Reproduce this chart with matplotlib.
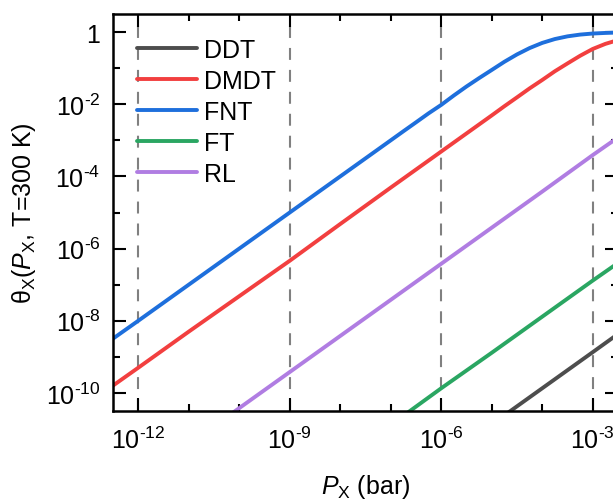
import matplotlib
matplotlib.use('Agg')
import matplotlib.pyplot as plt
from matplotlib.ticker import FixedLocator, NullFormatter

# --- data (pressure in bar, coverage theta) ---
p_fnt = [10**-12.5, 1e-12, 1e-11, 1e-10, 1e-9, 1e-8, 1e-7,
         10**-6.75, 10**-6.5, 10**-6.25, 1e-6, 10**-5.75, 10**-5.5, 10**-5.25, 1e-5,
         10**-4.75, 10**-4.5, 10**-4.25, 1e-4, 10**-3.75, 10**-3.5, 10**-3.25, 1e-3,
         10**-2.75, 10**-2.5]
fnt = [3.2e-9, 1.0e-8, 1.0e-7, 1.0e-6, 1.0e-5, 1.0e-4, 1.0e-3,
       1.78e-3, 3.15e-3, 5.6e-3, 9.6e-3, 0.0175, 0.031, 0.053, 0.089,
       0.15, 0.24, 0.36, 0.50, 0.64, 0.76, 0.85, 0.91,
       0.945, 0.97]

p_dmdt = [10**-12.5, 1e-12, 1e-11, 1e-10, 1e-9, 1e-8, 1e-7, 1e-6, 1e-5,
          10**-4.75, 10**-4.5, 10**-4.25, 1e-4, 10**-3.75, 10**-3.5, 10**-3.25, 1e-3,
          10**-2.75, 10**-2.5]
dmdt = [1.6e-10, 5.0e-10, 5.0e-9, 4.8e-8, 4.6e-7, 4.8e-6, 4.9e-5, 4.9e-4, 4.9e-3,
        8.8e-3, 0.0155, 0.0275, 0.047, 0.082, 0.135, 0.22, 0.34,
        0.47, 0.60]

p_rl = [1e-11, 1e-10, 1e-9, 1e-8, 1e-7, 1e-6, 1e-5, 1e-4, 1e-3, 10**-2.5]
rl = [3.8e-12, 3.8e-11, 3.8e-10, 3.8e-9, 3.8e-8, 3.8e-7, 3.8e-6, 3.8e-5, 3.9e-4, 1.2e-3]

p_ft = [1e-7, 1e-6, 1e-5, 1e-4, 1e-3, 10**-2.5]
ft = [1.3e-11, 1.35e-10, 1.3e-9, 1.3e-8, 1.3e-7, 4.0e-7]

p_ddt = [1e-5, 1e-4, 1e-3, 10**-2.5]
ddt = [1.35e-11, 1.35e-10, 1.35e-9, 4.3e-9]

dash_p = [1e-12, 1e-9, 1e-6, 1e-3]

x_major = [1e-12, 1e-9, 1e-6, 1e-3]
x_labels = [r'$10^{\text{-}12}$', r'$10^{\text{-}9}$', r'$10^{\text{-}6}$', r'$10^{\text{-}3}$']
x_minor = [1e-11, 1e-10, 1e-8, 1e-7, 1e-5, 1e-4]
y_major = [1, 1e-2, 1e-4, 1e-6, 1e-8, 1e-10]
y_labels = ['1', r'$10^{\text{-}2}$', r'$10^{\text{-}4}$', r'$10^{\text{-}6}$',
            r'$10^{\text{-}8}$', r'$10^{\text{-}10}$']
y_minor = [1e-1, 1e-3, 1e-5, 1e-7, 1e-9]

# --- style ---
FONT = 18
plt.rcParams['font.family'] = ['Liberation Sans', 'DejaVu Sans']
plt.rcParams['mathtext.fontset'] = 'custom'
plt.rcParams['mathtext.rm'] = 'Liberation Sans'
plt.rcParams['mathtext.it'] = 'Liberation Sans:italic'
plt.rcParams['mathtext.default'] = 'regular'
plt.rcParams['lines.scale_dashes'] = False

fig = plt.figure(figsize=(6.13, 5.02), dpi=100)
ax = fig.add_axes([113 / 613, 1 - 412 / 502, 505 / 613, 397 / 502])

for p in dash_p:
    ax.axvline(p, color='#808080', lw=1.5, dashes=(8.6, 7.2), zorder=1)

lw = 2.8
ax.plot(p_ddt, ddt, color='#4d4d4d', lw=lw, label='DDT', solid_capstyle='round')
ax.plot(p_dmdt, dmdt, color='#f23f3f', lw=lw, label='DMDT', solid_capstyle='round')
ax.plot(p_fnt, fnt, color='#1e6fdc', lw=lw, label='FNT', solid_capstyle='round')
ax.plot(p_ft, ft, color='#2aa662', lw=lw, label='FT', solid_capstyle='round')
ax.plot(p_rl, rl, color='#b07de2', lw=lw, label='RL', solid_capstyle='round')

ax.set_xscale('log')
ax.set_yscale('log')
ax.set_xlim(10**-12.5, 10**-2.5)
ax.set_ylim(10**-10.5, 10**0.5)

ax.xaxis.set_major_locator(FixedLocator(x_major))
ax.set_xticklabels(x_labels)
ax.xaxis.set_minor_locator(FixedLocator(x_minor))
ax.xaxis.set_minor_formatter(NullFormatter())
ax.yaxis.set_major_locator(FixedLocator(y_major))
ax.set_yticklabels(y_labels)
ax.yaxis.set_minor_locator(FixedLocator(y_minor))
ax.yaxis.set_minor_formatter(NullFormatter())

ax.tick_params(which='both', direction='in', top=True, right=True, labelsize=FONT)
ax.tick_params(which='major', length=9.5, width=1.5)
ax.tick_params(which='minor', length=5, width=1.5)
ax.tick_params(axis='x', which='major', pad=11)
ax.tick_params(axis='y', which='major', pad=9)
for s in ax.spines.values():
    s.set_linewidth(1.8)

ax.set_xlabel(r'$\mathit{P}_{\mathrm{X}}$ (bar)', fontsize=FONT, labelpad=14)
ax.set_ylabel(r'θ$_{\mathrm{X}}$($\mathit{P}_{\mathrm{X}}$, T=300 K)', fontsize=FONT, labelpad=6)

ax.legend(loc='upper left', frameon=False, fontsize=FONT, handlelength=2.4,
          handletextpad=0.3, labelspacing=0.28, borderaxespad=0.5, borderpad=0.45)

fig.savefig('out.png', dpi=100)
